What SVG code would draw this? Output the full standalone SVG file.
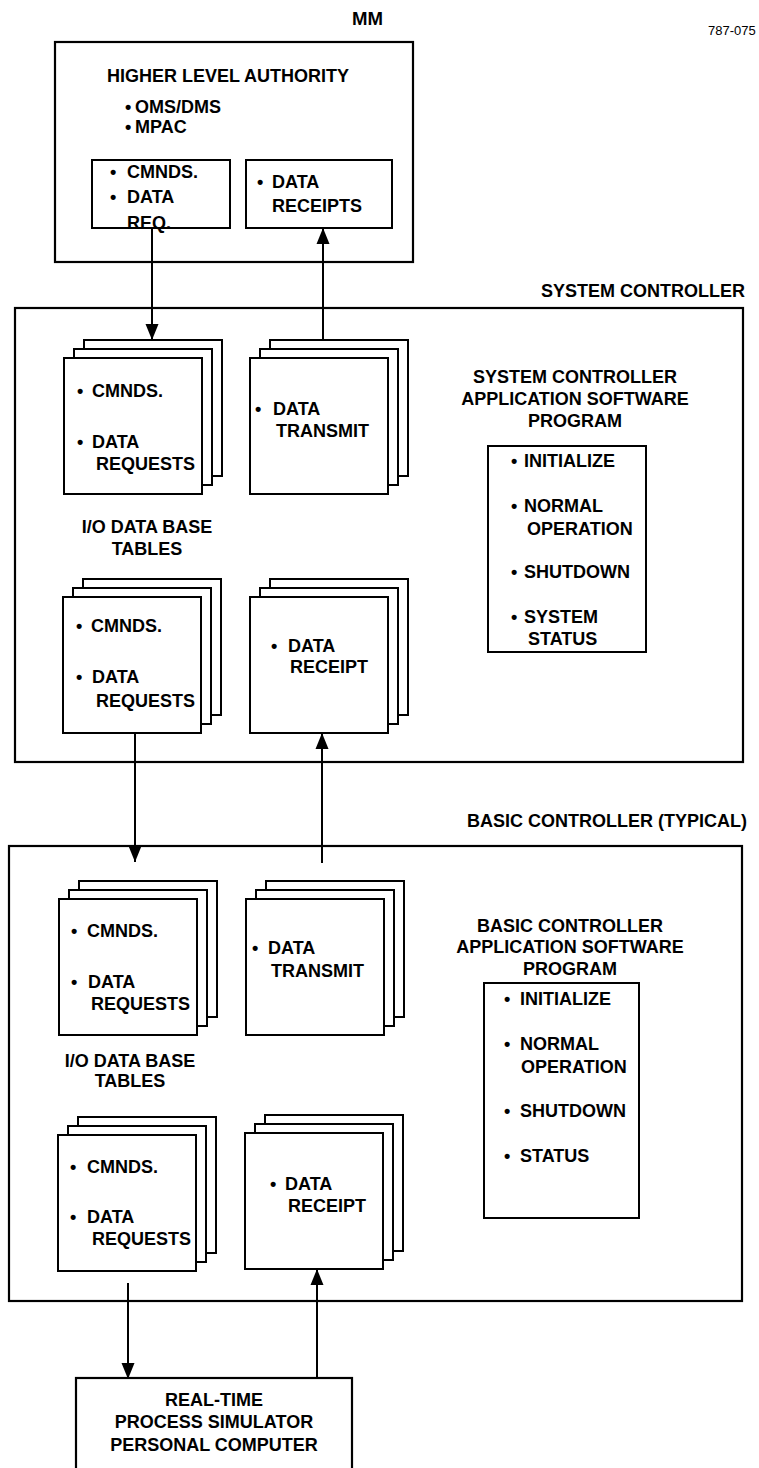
<svg xmlns="http://www.w3.org/2000/svg" xmlns:xlink="http://www.w3.org/1999/xlink" width="759" height="1468" viewBox="0 0 759 1468">
  <style>
    .box { fill: #fff; stroke: #000; stroke-width: 2.2; }
    .card { fill: #fff; stroke: #000; stroke-width: 2; }
    .wire { fill: none; stroke: #000; stroke-width: 2; }
    text { font-family: "Liberation Sans", Arial, Helvetica, sans-serif; font-weight: bold; font-size: 18px; fill: #000; }
    .mid { text-anchor: middle; }
    .end { text-anchor: end; }
    .small { font-size: 13px; font-weight: normal; }
  </style>
  <defs>
    <marker id="head" markerUnits="userSpaceOnUse" markerWidth="16" markerHeight="14" refX="16" refY="7" orient="auto">
      <path d="M0,0.5 L16,7 L0,13.5 z" fill="#000"/>
    </marker>
    <!-- three overlapping table sheets, front sheet at the origin -->
    <g id="stack">
      <rect class="card" x="20" y="-18" width="138" height="136"/>
      <rect class="card" x="10" y="-9" width="138" height="136"/>
      <rect class="card" x="0" y="0" width="138" height="136"/>
    </g>
  </defs>

  <rect width="759" height="1468" fill="#fff"/>

  <!-- captions outside the frames -->
  <text x="352" y="25" font-size="14" textLength="31" lengthAdjust="spacingAndGlyphs">MM</text>
  <text class="small" x="708" y="35">787-075</text>
  <text class="end" x="745" y="297">SYSTEM CONTROLLER</text>
  <text class="end" x="747" y="827">BASIC CONTROLLER (TYPICAL)</text>

  <!-- higher level authority -->
  <g id="hla">
    <rect class="box" x="55" y="42" width="358" height="220"/>
    <text x="107" y="82">HIGHER LEVEL AUTHORITY</text>
    <text y="113"><tspan x="125">•</tspan><tspan x="135">OMS/DMS</tspan></text>
    <text y="133"><tspan x="125">•</tspan><tspan x="135">MPAC</tspan></text>
  </g>
  <g id="hla-cmnds">
    <rect class="card" x="92" y="160" width="138" height="68"/>
    <text y="178"><tspan x="110">•</tspan><tspan x="127">CMNDS.</tspan></text>
    <text y="203"><tspan x="110">•</tspan><tspan x="127">DATA</tspan></text>
    <text x="127" y="229">REQ.</text>
  </g>
  <g id="hla-receipts">
    <rect class="card" x="246" y="160" width="146" height="68"/>
    <text y="188"><tspan x="257">•</tspan><tspan x="272">DATA</tspan></text>
    <text x="272" y="212">RECEIPTS</text>
  </g>

  <!-- system controller -->
  <g id="system-controller">
    <rect class="box" x="15" y="308" width="728" height="454"/>
    <text class="mid" x="147" y="533">I/O DATA BASE</text>
    <text class="mid" x="147" y="555">TABLES</text>
    <text class="mid" x="575" y="383">SYSTEM CONTROLLER</text>
    <text class="mid" x="575" y="405">APPLICATION SOFTWARE</text>
    <text class="mid" x="575" y="427">PROGRAM</text>
  </g>
  <g id="sc-program">
    <rect class="card" x="488" y="446" width="158" height="206"/>
    <text y="467"><tspan x="511">•</tspan><tspan x="524">INITIALIZE</tspan></text>
    <text y="512"><tspan x="511">•</tspan><tspan x="524">NORMAL</tspan></text>
    <text x="527" y="535">OPERATION</text>
    <text y="578"><tspan x="511">•</tspan><tspan x="524">SHUTDOWN</tspan></text>
    <text y="623"><tspan x="511">•</tspan><tspan x="524">SYSTEM</tspan></text>
    <text x="528" y="645">STATUS</text>
  </g>
  <g id="sc-out-tables">
    <use xlink:href="#stack" x="64" y="358"/>
    <text y="397"><tspan x="77">•</tspan><tspan x="92">CMNDS.</tspan></text>
    <text y="448"><tspan x="77">•</tspan><tspan x="92">DATA</tspan></text>
    <text x="96" y="470">REQUESTS</text>
  </g>
  <g id="sc-transmit">
    <use xlink:href="#stack" x="250" y="358"/>
    <text y="415"><tspan x="255">•</tspan><tspan x="273">DATA</tspan></text>
    <text x="276" y="437">TRANSMIT</text>
  </g>
  <g id="sc-in-tables">
    <use xlink:href="#stack" x="63" y="597"/>
    <text y="632"><tspan x="76">•</tspan><tspan x="91">CMNDS.</tspan></text>
    <text y="683"><tspan x="76">•</tspan><tspan x="92">DATA</tspan></text>
    <text x="96" y="707">REQUESTS</text>
  </g>
  <g id="sc-receipt">
    <use xlink:href="#stack" x="250" y="597"/>
    <text y="652"><tspan x="271">•</tspan><tspan x="288">DATA</tspan></text>
    <text x="290" y="673">RECEIPT</text>
  </g>

  <!-- basic controller -->
  <g id="basic-controller">
    <rect class="box" x="9" y="846" width="733" height="455"/>
    <text class="mid" x="130" y="1067">I/O DATA BASE</text>
    <text class="mid" x="130" y="1087">TABLES</text>
    <text class="mid" x="570" y="932">BASIC CONTROLLER</text>
    <text class="mid" x="570" y="953">APPLICATION SOFTWARE</text>
    <text class="mid" x="570" y="975">PROGRAM</text>
  </g>
  <g id="bc-program">
    <rect class="card" x="484" y="983" width="155" height="235"/>
    <text y="1005"><tspan x="504">•</tspan><tspan x="520">INITIALIZE</tspan></text>
    <text y="1050"><tspan x="504">•</tspan><tspan x="520">NORMAL</tspan></text>
    <text x="521" y="1073">OPERATION</text>
    <text y="1117"><tspan x="504">•</tspan><tspan x="520">SHUTDOWN</tspan></text>
    <text y="1162"><tspan x="504">•</tspan><tspan x="520">STATUS</tspan></text>
  </g>
  <g id="bc-out-tables">
    <use xlink:href="#stack" x="59" y="899"/>
    <text y="937"><tspan x="71">•</tspan><tspan x="87">CMNDS.</tspan></text>
    <text y="988"><tspan x="71">•</tspan><tspan x="88">DATA</tspan></text>
    <text x="91" y="1010">REQUESTS</text>
  </g>
  <g id="bc-transmit">
    <use xlink:href="#stack" x="246" y="899"/>
    <text y="954"><tspan x="252">•</tspan><tspan x="268">DATA</tspan></text>
    <text x="271" y="977">TRANSMIT</text>
  </g>
  <g id="bc-in-tables">
    <use xlink:href="#stack" x="58" y="1135"/>
    <text y="1173"><tspan x="70">•</tspan><tspan x="87">CMNDS.</tspan></text>
    <text y="1223"><tspan x="70">•</tspan><tspan x="87">DATA</tspan></text>
    <text x="92" y="1245">REQUESTS</text>
  </g>
  <g id="bc-receipt">
    <use xlink:href="#stack" x="245" y="1133"/>
    <text y="1190"><tspan x="270">•</tspan><tspan x="285">DATA</tspan></text>
    <text x="288" y="1212">RECEIPT</text>
  </g>

  <!-- process simulator PC -->
  <g id="simulator">
    <rect class="box" x="76" y="1378" width="276" height="100"/>
    <text class="mid" x="214" y="1406">REAL-TIME</text>
    <text class="mid" x="214" y="1428">PROCESS SIMULATOR</text>
    <text class="mid" x="214" y="1451">PERSONAL COMPUTER</text>
  </g>

  <!-- data flow connectors -->
  <g id="connectors">
    <line class="wire" x1="152" y1="228" x2="152" y2="340" marker-end="url(#head)"/>
    <line class="wire" x1="323" y1="340" x2="323" y2="228" marker-end="url(#head)"/>
    <line class="wire" x1="135" y1="733" x2="135" y2="862" marker-end="url(#head)"/>
    <line class="wire" x1="322" y1="863" x2="322" y2="733" marker-end="url(#head)"/>
    <line class="wire" x1="128" y1="1283" x2="128" y2="1379" marker-end="url(#head)"/>
    <line class="wire" x1="317" y1="1378" x2="317" y2="1269" marker-end="url(#head)"/>
  </g>
</svg>
